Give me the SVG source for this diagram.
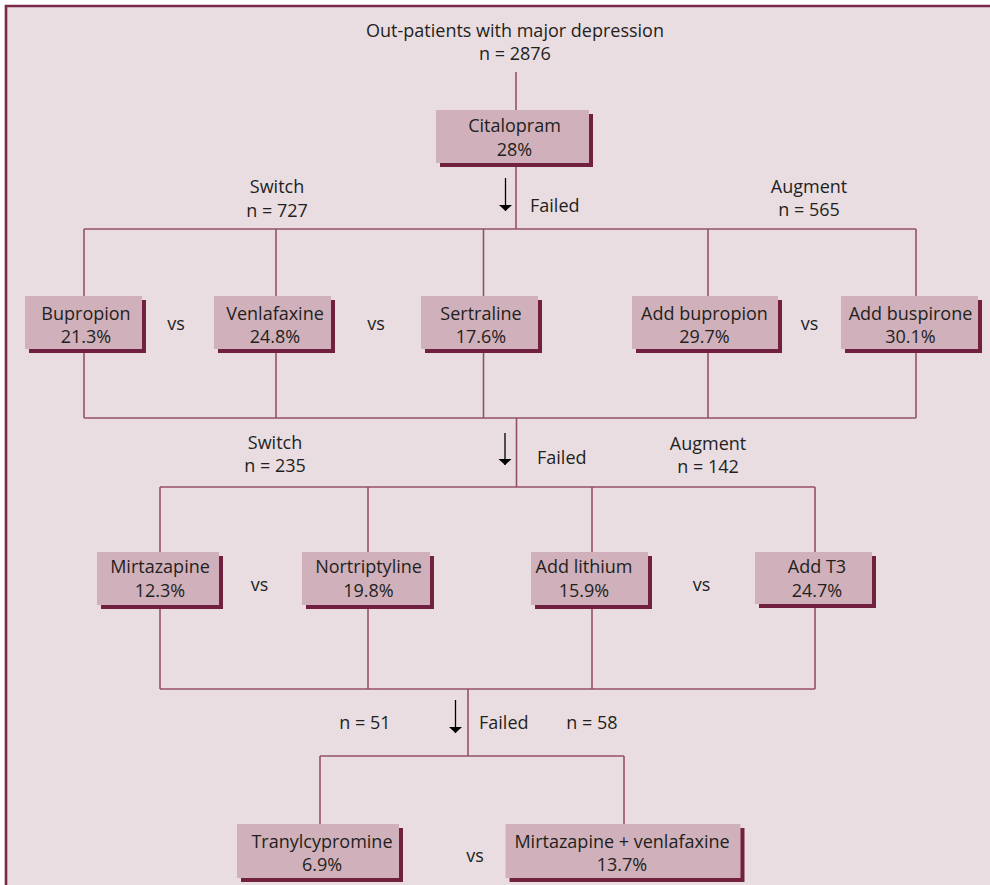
<svg xmlns="http://www.w3.org/2000/svg" width="990" height="885" viewBox="0 0 990 885">
  <defs>
    <style>
      text { font-family: "Open Sans", "Noto Sans", "DejaVu Sans", sans-serif; font-weight: 370; font-size: 18px; fill: #231f20; }
      .c { text-anchor: middle; }
      .box { fill: #d0b0ba; }
      .shadow { fill: #72203f; }
      .wire { fill: none; stroke: #94506b; stroke-width: 1.6; }
      .arrow { stroke: #000; stroke-width: 1.3; marker-end: url(#head); }
    </style>
    <marker id="head" viewBox="0 0 6 14" refX="6" refY="7" markerWidth="6" markerHeight="14" markerUnits="userSpaceOnUse" orient="auto">
      <path d="M0,0.5 L6,7 L0,13.5 Z" fill="#000"/>
    </marker>
  </defs>

  <!-- page -->
  <rect x="0" y="0" width="990" height="885" fill="#ffffff"/>
  <rect x="6" y="6" width="984" height="879" fill="#e9dde2"/>
  <path d="M6,885 V6 H990" fill="none" stroke="#7a2a48" stroke-width="2.6"/>

  <!-- connectors -->
  <g id="connectors">
    <path class="wire" d="M516,72 V110 M516,163 V229 M84,229 H916
      M84,229 V296 M276,229 V296 M483.5,229 V296 M708,229 V296 M916,229 V296
      M84,349 V418 M276,349 V418 M483.5,349 V418 M708,349 V418 M916,349 V418
      M84,418 H916 M516.5,418 V487 M160,487 H815
      M160,487 V552 M368,487 V552 M592,487 V552 M815,487 V552
      M160,605 V689 M368,605 V689 M592,605 V689 M815,605 V689
      M160,689 H815 M468,689 V756 M320,756 H624 M320,756 V824 M624,756 V824"/>
    <line class="arrow" x1="505.5" y1="178" x2="505.5" y2="211"/>
    <line class="arrow" x1="505" y1="433" x2="505" y2="465"/>
    <line class="arrow" x1="455.5" y1="700" x2="455.5" y2="733"/>
  </g>

  <!-- labels -->
  <g id="labels">
    <text class="c" x="515" y="37">Out-patients with major depression</text>
    <text class="c" x="515" y="60">n = 2876</text>

    <text class="c" x="277" y="193">Switch</text>
    <text class="c" x="277" y="217">n = 727</text>
    <text x="530" y="212">Failed</text>
    <text class="c" x="809" y="193">Augment</text>
    <text class="c" x="809" y="216">n = 565</text>

    <text class="c" x="176" y="330">vs</text>
    <text class="c" x="376" y="330">vs</text>
    <text class="c" x="809.5" y="330">vs</text>

    <text class="c" x="275" y="449">Switch</text>
    <text class="c" x="275" y="472">n = 235</text>
    <text x="537" y="464">Failed</text>
    <text class="c" x="708" y="450">Augment</text>
    <text class="c" x="708" y="473">n = 142</text>

    <text class="c" x="259.5" y="591">vs</text>
    <text class="c" x="701.5" y="591">vs</text>

    <text class="c" x="365" y="729">n = 51</text>
    <text x="479" y="729">Failed</text>
    <text class="c" x="592" y="729">n = 58</text>

    <text class="c" x="475" y="862">vs</text>
  </g>

  <!-- level 1 -->
  <g id="citalopram">
    <rect class="shadow" x="440" y="114" width="153" height="53"/>
    <rect class="box" x="436" y="110" width="153" height="53"/>
    <text class="c" x="514.5" y="132">Citalopram</text>
    <text class="c" x="514.5" y="156">28%</text>
  </g>

  <!-- level 2 -->
  <g id="bupropion">
    <rect class="shadow" x="29" y="300" width="117" height="53"/>
    <rect class="box" x="25" y="296" width="117" height="53"/>
    <text class="c" x="86" y="319.5">Bupropion</text>
    <text class="c" x="86" y="343">21.3%</text>
  </g>
  <g id="venlafaxine">
    <rect class="shadow" x="218" y="300" width="117" height="53"/>
    <rect class="box" x="214" y="296" width="117" height="53"/>
    <text class="c" x="275" y="319.5">Venlafaxine</text>
    <text class="c" x="275" y="343">24.8%</text>
  </g>
  <g id="sertraline">
    <rect class="shadow" x="425" y="300" width="117" height="53"/>
    <rect class="box" x="421" y="296" width="117" height="53"/>
    <text class="c" x="481" y="319.5">Sertraline</text>
    <text class="c" x="481" y="343">17.6%</text>
  </g>
  <g id="add-bupropion">
    <rect class="shadow" x="636" y="300" width="146" height="53"/>
    <rect class="box" x="632" y="296" width="146" height="53"/>
    <text class="c" x="704.5" y="319.5">Add bupropion</text>
    <text class="c" x="704.5" y="343">29.7%</text>
  </g>
  <g id="add-buspirone">
    <rect class="shadow" x="845" y="300" width="137" height="53"/>
    <rect class="box" x="841" y="296" width="137" height="53"/>
    <text class="c" x="910.5" y="319.5">Add buspirone</text>
    <text class="c" x="910.5" y="343">30.1%</text>
  </g>

  <!-- level 3 -->
  <g id="mirtazapine">
    <rect class="shadow" x="101" y="556" width="122" height="53"/>
    <rect class="box" x="97" y="552" width="122" height="53"/>
    <text class="c" x="160" y="573">Mirtazapine</text>
    <text class="c" x="160" y="597">12.3%</text>
  </g>
  <g id="nortriptyline">
    <rect class="shadow" x="306" y="556" width="128" height="53"/>
    <rect class="box" x="302" y="552" width="128" height="53"/>
    <text class="c" x="368.5" y="573">Nortriptyline</text>
    <text class="c" x="368.5" y="597">19.8%</text>
  </g>
  <g id="add-lithium">
    <rect class="shadow" x="535" y="556" width="117" height="53"/>
    <rect class="box" x="531" y="552" width="117" height="53"/>
    <text class="c" x="584" y="573">Add lithium</text>
    <text class="c" x="584" y="597">15.9%</text>
  </g>
  <g id="add-t3">
    <rect class="shadow" x="759" y="556" width="117" height="52"/>
    <rect class="box" x="755" y="552" width="117" height="52"/>
    <text class="c" x="817" y="573">Add T3</text>
    <text class="c" x="817" y="597">24.7%</text>
  </g>

  <!-- level 4 -->
  <g id="tranylcypromine">
    <rect class="shadow" x="241" y="828" width="162" height="54"/>
    <rect class="box" x="237" y="824" width="162" height="54"/>
    <text class="c" x="322" y="848">Tranylcypromine</text>
    <text class="c" x="322" y="871">6.9%</text>
  </g>
  <g id="mirtazapine-venlafaxine">
    <rect class="shadow" x="509.5" y="828" width="235" height="54"/>
    <rect class="box" x="505.5" y="824" width="235" height="54"/>
    <text class="c" x="622" y="848">Mirtazapine + venlafaxine</text>
    <text class="c" x="622" y="871">13.7%</text>
  </g>
</svg>
